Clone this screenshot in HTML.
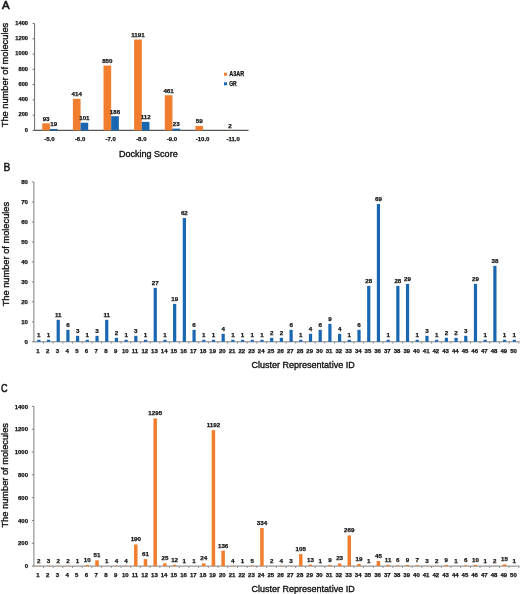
<!DOCTYPE html>
<html><head><meta charset="utf-8"><style>
html,body{margin:0;padding:0;background:#fff;}
body{width:520px;height:594px;overflow:hidden;}
svg{display:block;will-change:transform;font-family:"Liberation Sans",sans-serif;fill:#111;}
svg text{fill:#111;}
</style></head><body>
<svg width="520" height="594" viewBox="0 0 520 594">
<text x="2.10" y="8.90" font-size="11.4" text-anchor="start" font-weight="normal" stroke="#111" stroke-width="0.6">A</text>
<line x1="34.60" y1="23.60" x2="34.60" y2="130.90" stroke="#6a6a6a" stroke-width="1"/>
<line x1="34.60" y1="130.40" x2="248.50" y2="130.40" stroke="#555" stroke-width="1.1"/>
<line x1="32.60" y1="130.40" x2="34.60" y2="130.40" stroke="#6a6a6a" stroke-width="1"/>
<text x="28.00" y="131.74" font-size="5.7" text-anchor="end" font-weight="bold"  stroke="#111" stroke-width="0.25">0</text>
<line x1="32.60" y1="115.14" x2="34.60" y2="115.14" stroke="#6a6a6a" stroke-width="1"/>
<text x="28.00" y="116.48" font-size="5.7" text-anchor="end" font-weight="bold"  stroke="#111" stroke-width="0.25">200</text>
<line x1="32.60" y1="99.89" x2="34.60" y2="99.89" stroke="#6a6a6a" stroke-width="1"/>
<text x="28.00" y="101.23" font-size="5.7" text-anchor="end" font-weight="bold"  stroke="#111" stroke-width="0.25">400</text>
<line x1="32.60" y1="84.63" x2="34.60" y2="84.63" stroke="#6a6a6a" stroke-width="1"/>
<text x="28.00" y="85.97" font-size="5.7" text-anchor="end" font-weight="bold"  stroke="#111" stroke-width="0.25">600</text>
<line x1="32.60" y1="69.37" x2="34.60" y2="69.37" stroke="#6a6a6a" stroke-width="1"/>
<text x="28.00" y="70.71" font-size="5.7" text-anchor="end" font-weight="bold"  stroke="#111" stroke-width="0.25">800</text>
<line x1="32.60" y1="54.11" x2="34.60" y2="54.11" stroke="#6a6a6a" stroke-width="1"/>
<text x="28.00" y="55.45" font-size="5.7" text-anchor="end" font-weight="bold"  stroke="#111" stroke-width="0.25">1000</text>
<line x1="32.60" y1="38.86" x2="34.60" y2="38.86" stroke="#6a6a6a" stroke-width="1"/>
<text x="28.00" y="40.20" font-size="5.7" text-anchor="end" font-weight="bold"  stroke="#111" stroke-width="0.25">1200</text>
<line x1="32.60" y1="23.60" x2="34.60" y2="23.60" stroke="#6a6a6a" stroke-width="1"/>
<text x="28.00" y="24.94" font-size="5.7" text-anchor="end" font-weight="bold"  stroke="#111" stroke-width="0.25">1400</text>
<rect x="42.25" y="123.31" width="7.66" height="7.09" fill="#F07E2E"/>
<text x="46.09" y="120.61" font-size="6.2" text-anchor="middle" font-weight="bold"  stroke="#111" stroke-width="0.25">93</text>
<rect x="49.91" y="128.95" width="7.66" height="1.45" fill="#1867B0"/>
<text x="53.74" y="126.25" font-size="6.2" text-anchor="middle" font-weight="bold"  stroke="#111" stroke-width="0.25">19</text>
<text x="49.41" y="141.15" font-size="6.0" text-anchor="middle" font-weight="bold"  stroke="#111" stroke-width="0.25">-5.0</text>
<rect x="72.89" y="98.82" width="7.66" height="31.58" fill="#F07E2E"/>
<text x="76.72" y="96.12" font-size="6.2" text-anchor="middle" font-weight="bold"  stroke="#111" stroke-width="0.25">414</text>
<rect x="80.55" y="122.70" width="7.66" height="7.70" fill="#1867B0"/>
<text x="84.38" y="120.00" font-size="6.2" text-anchor="middle" font-weight="bold"  stroke="#111" stroke-width="0.25">101</text>
<text x="80.05" y="141.15" font-size="6.0" text-anchor="middle" font-weight="bold"  stroke="#111" stroke-width="0.25">-6.0</text>
<rect x="103.52" y="65.56" width="7.66" height="64.84" fill="#F07E2E"/>
<text x="107.35" y="62.86" font-size="6.2" text-anchor="middle" font-weight="bold"  stroke="#111" stroke-width="0.25">850</text>
<rect x="111.18" y="116.21" width="7.66" height="14.19" fill="#1867B0"/>
<text x="115.01" y="113.51" font-size="6.2" text-anchor="middle" font-weight="bold"  stroke="#111" stroke-width="0.25">186</text>
<text x="110.68" y="141.15" font-size="6.0" text-anchor="middle" font-weight="bold"  stroke="#111" stroke-width="0.25">-7.0</text>
<rect x="134.15" y="39.54" width="7.66" height="90.86" fill="#F07E2E"/>
<text x="137.97" y="36.84" font-size="6.2" text-anchor="middle" font-weight="bold"  stroke="#111" stroke-width="0.25">1191</text>
<rect x="141.81" y="121.86" width="7.66" height="8.54" fill="#1867B0"/>
<text x="145.64" y="119.16" font-size="6.2" text-anchor="middle" font-weight="bold"  stroke="#111" stroke-width="0.25">112</text>
<text x="141.31" y="141.15" font-size="6.0" text-anchor="middle" font-weight="bold"  stroke="#111" stroke-width="0.25">-8.0</text>
<rect x="164.78" y="95.23" width="7.66" height="35.17" fill="#F07E2E"/>
<text x="168.60" y="92.53" font-size="6.2" text-anchor="middle" font-weight="bold"  stroke="#111" stroke-width="0.25">461</text>
<rect x="172.44" y="128.65" width="7.66" height="1.75" fill="#1867B0"/>
<text x="176.27" y="125.95" font-size="6.2" text-anchor="middle" font-weight="bold"  stroke="#111" stroke-width="0.25">23</text>
<text x="171.94" y="141.15" font-size="6.0" text-anchor="middle" font-weight="bold"  stroke="#111" stroke-width="0.25">-9.0</text>
<rect x="195.41" y="125.90" width="7.66" height="4.50" fill="#F07E2E"/>
<text x="199.23" y="123.20" font-size="6.2" text-anchor="middle" font-weight="bold"  stroke="#111" stroke-width="0.25">59</text>
<text x="202.56" y="141.15" font-size="6.0" text-anchor="middle" font-weight="bold"  stroke="#111" stroke-width="0.25">-10.0</text>
<rect x="226.03" y="130.25" width="7.66" height="0.15" fill="#F07E2E"/>
<text x="229.86" y="127.55" font-size="6.2" text-anchor="middle" font-weight="bold"  stroke="#111" stroke-width="0.25">2</text>
<text x="233.19" y="141.15" font-size="6.0" text-anchor="middle" font-weight="bold"  stroke="#111" stroke-width="0.25">-11.0</text>
<text x="148.30" y="156.70" font-size="8.8" text-anchor="middle" font-weight="normal" textLength="58.8" lengthAdjust="spacingAndGlyphs" stroke="#111" stroke-width="0.35">Docking Score</text>
<text transform="translate(7.6,75.0) rotate(-90)" x="0" y="0" font-size="8.7" text-anchor="middle" textLength="104.5" lengthAdjust="spacingAndGlyphs" stroke="#111" stroke-width="0.35">The number of molecules</text>
<rect x="224.00" y="72.70" width="3.00" height="3.00" fill="#F07E2E"/>
<text x="229.20" y="76.30" font-size="6.6" text-anchor="start" font-weight="bold" textLength="15" lengthAdjust="spacingAndGlyphs" stroke="#111" stroke-width="0.25">A3AR</text>
<rect x="224.00" y="82.30" width="3.00" height="3.00" fill="#1867B0"/>
<text x="229.20" y="85.90" font-size="6.6" text-anchor="start" font-weight="bold" textLength="7.5" lengthAdjust="spacingAndGlyphs" stroke="#111" stroke-width="0.25">GR</text>
<text x="3.60" y="170.70" font-size="11.2" text-anchor="start" font-weight="normal" stroke="#111" stroke-width="0.45" textLength="6.9" lengthAdjust="spacingAndGlyphs">B</text>
<line x1="33.90" y1="182.00" x2="33.90" y2="342.30" stroke="#7f7f7f" stroke-width="1"/>
<line x1="33.90" y1="341.80" x2="519.50" y2="341.80" stroke="#7f7f7f" stroke-width="1"/>
<line x1="31.90" y1="341.80" x2="33.90" y2="341.80" stroke="#7f7f7f" stroke-width="1"/>
<text x="28.00" y="343.98" font-size="6.1" text-anchor="end" font-weight="bold"  stroke="#111" stroke-width="0.25">0</text>
<line x1="31.90" y1="321.82" x2="33.90" y2="321.82" stroke="#7f7f7f" stroke-width="1"/>
<text x="28.00" y="324.01" font-size="6.1" text-anchor="end" font-weight="bold"  stroke="#111" stroke-width="0.25">10</text>
<line x1="31.90" y1="301.85" x2="33.90" y2="301.85" stroke="#7f7f7f" stroke-width="1"/>
<text x="28.00" y="304.03" font-size="6.1" text-anchor="end" font-weight="bold"  stroke="#111" stroke-width="0.25">20</text>
<line x1="31.90" y1="281.88" x2="33.90" y2="281.88" stroke="#7f7f7f" stroke-width="1"/>
<text x="28.00" y="284.06" font-size="6.1" text-anchor="end" font-weight="bold"  stroke="#111" stroke-width="0.25">30</text>
<line x1="31.90" y1="261.90" x2="33.90" y2="261.90" stroke="#7f7f7f" stroke-width="1"/>
<text x="28.00" y="264.08" font-size="6.1" text-anchor="end" font-weight="bold"  stroke="#111" stroke-width="0.25">40</text>
<line x1="31.90" y1="241.93" x2="33.90" y2="241.93" stroke="#7f7f7f" stroke-width="1"/>
<text x="28.00" y="244.11" font-size="6.1" text-anchor="end" font-weight="bold"  stroke="#111" stroke-width="0.25">50</text>
<line x1="31.90" y1="221.95" x2="33.90" y2="221.95" stroke="#7f7f7f" stroke-width="1"/>
<text x="28.00" y="224.13" font-size="6.1" text-anchor="end" font-weight="bold"  stroke="#111" stroke-width="0.25">60</text>
<line x1="31.90" y1="201.97" x2="33.90" y2="201.97" stroke="#7f7f7f" stroke-width="1"/>
<text x="28.00" y="204.16" font-size="6.1" text-anchor="end" font-weight="bold"  stroke="#111" stroke-width="0.25">70</text>
<line x1="31.90" y1="182.00" x2="33.90" y2="182.00" stroke="#7f7f7f" stroke-width="1"/>
<text x="28.00" y="184.18" font-size="6.1" text-anchor="end" font-weight="bold"  stroke="#111" stroke-width="0.25">80</text>
<line x1="43.40" y1="341.80" x2="43.40" y2="343.60" stroke="#8c8c8c" stroke-width="1"/>
<line x1="53.11" y1="341.80" x2="53.11" y2="343.60" stroke="#8c8c8c" stroke-width="1"/>
<line x1="62.81" y1="341.80" x2="62.81" y2="343.60" stroke="#8c8c8c" stroke-width="1"/>
<line x1="72.52" y1="341.80" x2="72.52" y2="343.60" stroke="#8c8c8c" stroke-width="1"/>
<line x1="82.22" y1="341.80" x2="82.22" y2="343.60" stroke="#8c8c8c" stroke-width="1"/>
<line x1="91.92" y1="341.80" x2="91.92" y2="343.60" stroke="#8c8c8c" stroke-width="1"/>
<line x1="101.63" y1="341.80" x2="101.63" y2="343.60" stroke="#8c8c8c" stroke-width="1"/>
<line x1="111.33" y1="341.80" x2="111.33" y2="343.60" stroke="#8c8c8c" stroke-width="1"/>
<line x1="121.04" y1="341.80" x2="121.04" y2="343.60" stroke="#8c8c8c" stroke-width="1"/>
<line x1="130.74" y1="341.80" x2="130.74" y2="343.60" stroke="#8c8c8c" stroke-width="1"/>
<line x1="140.44" y1="341.80" x2="140.44" y2="343.60" stroke="#8c8c8c" stroke-width="1"/>
<line x1="150.15" y1="341.80" x2="150.15" y2="343.60" stroke="#8c8c8c" stroke-width="1"/>
<line x1="159.85" y1="341.80" x2="159.85" y2="343.60" stroke="#8c8c8c" stroke-width="1"/>
<line x1="169.56" y1="341.80" x2="169.56" y2="343.60" stroke="#8c8c8c" stroke-width="1"/>
<line x1="179.26" y1="341.80" x2="179.26" y2="343.60" stroke="#8c8c8c" stroke-width="1"/>
<line x1="188.96" y1="341.80" x2="188.96" y2="343.60" stroke="#8c8c8c" stroke-width="1"/>
<line x1="198.67" y1="341.80" x2="198.67" y2="343.60" stroke="#8c8c8c" stroke-width="1"/>
<line x1="208.37" y1="341.80" x2="208.37" y2="343.60" stroke="#8c8c8c" stroke-width="1"/>
<line x1="218.08" y1="341.80" x2="218.08" y2="343.60" stroke="#8c8c8c" stroke-width="1"/>
<line x1="227.78" y1="341.80" x2="227.78" y2="343.60" stroke="#8c8c8c" stroke-width="1"/>
<line x1="237.48" y1="341.80" x2="237.48" y2="343.60" stroke="#8c8c8c" stroke-width="1"/>
<line x1="247.19" y1="341.80" x2="247.19" y2="343.60" stroke="#8c8c8c" stroke-width="1"/>
<line x1="256.89" y1="341.80" x2="256.89" y2="343.60" stroke="#8c8c8c" stroke-width="1"/>
<line x1="266.60" y1="341.80" x2="266.60" y2="343.60" stroke="#8c8c8c" stroke-width="1"/>
<line x1="276.30" y1="341.80" x2="276.30" y2="343.60" stroke="#8c8c8c" stroke-width="1"/>
<line x1="286.00" y1="341.80" x2="286.00" y2="343.60" stroke="#8c8c8c" stroke-width="1"/>
<line x1="295.71" y1="341.80" x2="295.71" y2="343.60" stroke="#8c8c8c" stroke-width="1"/>
<line x1="305.41" y1="341.80" x2="305.41" y2="343.60" stroke="#8c8c8c" stroke-width="1"/>
<line x1="315.12" y1="341.80" x2="315.12" y2="343.60" stroke="#8c8c8c" stroke-width="1"/>
<line x1="324.82" y1="341.80" x2="324.82" y2="343.60" stroke="#8c8c8c" stroke-width="1"/>
<line x1="334.52" y1="341.80" x2="334.52" y2="343.60" stroke="#8c8c8c" stroke-width="1"/>
<line x1="344.23" y1="341.80" x2="344.23" y2="343.60" stroke="#8c8c8c" stroke-width="1"/>
<line x1="353.93" y1="341.80" x2="353.93" y2="343.60" stroke="#8c8c8c" stroke-width="1"/>
<line x1="363.64" y1="341.80" x2="363.64" y2="343.60" stroke="#8c8c8c" stroke-width="1"/>
<line x1="373.34" y1="341.80" x2="373.34" y2="343.60" stroke="#8c8c8c" stroke-width="1"/>
<line x1="383.04" y1="341.80" x2="383.04" y2="343.60" stroke="#8c8c8c" stroke-width="1"/>
<line x1="392.75" y1="341.80" x2="392.75" y2="343.60" stroke="#8c8c8c" stroke-width="1"/>
<line x1="402.45" y1="341.80" x2="402.45" y2="343.60" stroke="#8c8c8c" stroke-width="1"/>
<line x1="412.16" y1="341.80" x2="412.16" y2="343.60" stroke="#8c8c8c" stroke-width="1"/>
<line x1="421.86" y1="341.80" x2="421.86" y2="343.60" stroke="#8c8c8c" stroke-width="1"/>
<line x1="431.56" y1="341.80" x2="431.56" y2="343.60" stroke="#8c8c8c" stroke-width="1"/>
<line x1="441.27" y1="341.80" x2="441.27" y2="343.60" stroke="#8c8c8c" stroke-width="1"/>
<line x1="450.97" y1="341.80" x2="450.97" y2="343.60" stroke="#8c8c8c" stroke-width="1"/>
<line x1="460.68" y1="341.80" x2="460.68" y2="343.60" stroke="#8c8c8c" stroke-width="1"/>
<line x1="470.38" y1="341.80" x2="470.38" y2="343.60" stroke="#8c8c8c" stroke-width="1"/>
<line x1="480.08" y1="341.80" x2="480.08" y2="343.60" stroke="#8c8c8c" stroke-width="1"/>
<line x1="489.79" y1="341.80" x2="489.79" y2="343.60" stroke="#8c8c8c" stroke-width="1"/>
<line x1="499.49" y1="341.80" x2="499.49" y2="343.60" stroke="#8c8c8c" stroke-width="1"/>
<line x1="509.20" y1="341.80" x2="509.20" y2="343.60" stroke="#8c8c8c" stroke-width="1"/>
<line x1="518.90" y1="341.80" x2="518.90" y2="343.60" stroke="#8c8c8c" stroke-width="1"/>
<rect x="37.20" y="339.80" width="3.20" height="2.00" fill="#1867B0"/>
<text x="38.80" y="336.80" font-size="6.2" text-anchor="middle" font-weight="bold"  stroke="#111" stroke-width="0.25">1</text>
<text x="38.00" y="352.95" font-size="6.0" text-anchor="middle" font-weight="bold"  stroke="#111" stroke-width="0.25">1</text>
<rect x="46.91" y="339.80" width="3.20" height="2.00" fill="#1867B0"/>
<text x="48.51" y="336.80" font-size="6.2" text-anchor="middle" font-weight="bold"  stroke="#111" stroke-width="0.25">1</text>
<text x="47.71" y="352.95" font-size="6.0" text-anchor="middle" font-weight="bold"  stroke="#111" stroke-width="0.25">2</text>
<rect x="56.61" y="319.83" width="3.20" height="21.97" fill="#1867B0"/>
<text x="58.21" y="316.83" font-size="6.2" text-anchor="middle" font-weight="bold"  stroke="#111" stroke-width="0.25">11</text>
<text x="57.41" y="352.95" font-size="6.0" text-anchor="middle" font-weight="bold"  stroke="#111" stroke-width="0.25">3</text>
<rect x="66.31" y="329.81" width="3.20" height="11.98" fill="#1867B0"/>
<text x="67.91" y="326.81" font-size="6.2" text-anchor="middle" font-weight="bold"  stroke="#111" stroke-width="0.25">6</text>
<text x="67.11" y="352.95" font-size="6.0" text-anchor="middle" font-weight="bold"  stroke="#111" stroke-width="0.25">4</text>
<rect x="76.02" y="335.81" width="3.20" height="5.99" fill="#1867B0"/>
<text x="77.62" y="332.81" font-size="6.2" text-anchor="middle" font-weight="bold"  stroke="#111" stroke-width="0.25">3</text>
<text x="76.82" y="352.95" font-size="6.0" text-anchor="middle" font-weight="bold"  stroke="#111" stroke-width="0.25">5</text>
<rect x="85.72" y="339.80" width="3.20" height="2.00" fill="#1867B0"/>
<text x="87.32" y="336.80" font-size="6.2" text-anchor="middle" font-weight="bold"  stroke="#111" stroke-width="0.25">1</text>
<text x="86.52" y="352.95" font-size="6.0" text-anchor="middle" font-weight="bold"  stroke="#111" stroke-width="0.25">6</text>
<rect x="95.43" y="335.81" width="3.20" height="5.99" fill="#1867B0"/>
<text x="97.03" y="332.81" font-size="6.2" text-anchor="middle" font-weight="bold"  stroke="#111" stroke-width="0.25">3</text>
<text x="96.23" y="352.95" font-size="6.0" text-anchor="middle" font-weight="bold"  stroke="#111" stroke-width="0.25">7</text>
<rect x="105.13" y="319.83" width="3.20" height="21.97" fill="#1867B0"/>
<text x="106.73" y="316.83" font-size="6.2" text-anchor="middle" font-weight="bold"  stroke="#111" stroke-width="0.25">11</text>
<text x="105.93" y="352.95" font-size="6.0" text-anchor="middle" font-weight="bold"  stroke="#111" stroke-width="0.25">8</text>
<rect x="114.83" y="337.81" width="3.20" height="4.00" fill="#1867B0"/>
<text x="116.43" y="334.81" font-size="6.2" text-anchor="middle" font-weight="bold"  stroke="#111" stroke-width="0.25">2</text>
<text x="115.63" y="352.95" font-size="6.0" text-anchor="middle" font-weight="bold"  stroke="#111" stroke-width="0.25">9</text>
<rect x="124.54" y="339.80" width="3.20" height="2.00" fill="#1867B0"/>
<text x="126.14" y="336.80" font-size="6.2" text-anchor="middle" font-weight="bold"  stroke="#111" stroke-width="0.25">1</text>
<text x="125.34" y="352.95" font-size="6.0" text-anchor="middle" font-weight="bold"  stroke="#111" stroke-width="0.25">10</text>
<rect x="134.24" y="335.81" width="3.20" height="5.99" fill="#1867B0"/>
<text x="135.84" y="332.81" font-size="6.2" text-anchor="middle" font-weight="bold"  stroke="#111" stroke-width="0.25">3</text>
<text x="135.04" y="352.95" font-size="6.0" text-anchor="middle" font-weight="bold"  stroke="#111" stroke-width="0.25">11</text>
<rect x="143.95" y="339.80" width="3.20" height="2.00" fill="#1867B0"/>
<text x="145.55" y="336.80" font-size="6.2" text-anchor="middle" font-weight="bold"  stroke="#111" stroke-width="0.25">1</text>
<text x="144.75" y="352.95" font-size="6.0" text-anchor="middle" font-weight="bold"  stroke="#111" stroke-width="0.25">12</text>
<rect x="153.65" y="287.87" width="3.20" height="53.93" fill="#1867B0"/>
<text x="155.25" y="284.87" font-size="6.2" text-anchor="middle" font-weight="bold"  stroke="#111" stroke-width="0.25">27</text>
<text x="154.45" y="352.95" font-size="6.0" text-anchor="middle" font-weight="bold"  stroke="#111" stroke-width="0.25">13</text>
<rect x="163.35" y="339.80" width="3.20" height="2.00" fill="#1867B0"/>
<text x="164.95" y="336.80" font-size="6.2" text-anchor="middle" font-weight="bold"  stroke="#111" stroke-width="0.25">1</text>
<text x="164.15" y="352.95" font-size="6.0" text-anchor="middle" font-weight="bold"  stroke="#111" stroke-width="0.25">14</text>
<rect x="173.06" y="303.85" width="3.20" height="37.95" fill="#1867B0"/>
<text x="174.66" y="300.85" font-size="6.2" text-anchor="middle" font-weight="bold"  stroke="#111" stroke-width="0.25">19</text>
<text x="173.86" y="352.95" font-size="6.0" text-anchor="middle" font-weight="bold"  stroke="#111" stroke-width="0.25">15</text>
<rect x="182.76" y="217.96" width="3.20" height="123.84" fill="#1867B0"/>
<text x="184.36" y="214.96" font-size="6.2" text-anchor="middle" font-weight="bold"  stroke="#111" stroke-width="0.25">62</text>
<text x="183.56" y="352.95" font-size="6.0" text-anchor="middle" font-weight="bold"  stroke="#111" stroke-width="0.25">16</text>
<rect x="192.47" y="329.81" width="3.20" height="11.98" fill="#1867B0"/>
<text x="194.07" y="326.81" font-size="6.2" text-anchor="middle" font-weight="bold"  stroke="#111" stroke-width="0.25">6</text>
<text x="193.27" y="352.95" font-size="6.0" text-anchor="middle" font-weight="bold"  stroke="#111" stroke-width="0.25">17</text>
<rect x="202.17" y="339.80" width="3.20" height="2.00" fill="#1867B0"/>
<text x="203.77" y="336.80" font-size="6.2" text-anchor="middle" font-weight="bold"  stroke="#111" stroke-width="0.25">1</text>
<text x="202.97" y="352.95" font-size="6.0" text-anchor="middle" font-weight="bold"  stroke="#111" stroke-width="0.25">18</text>
<rect x="211.87" y="339.80" width="3.20" height="2.00" fill="#1867B0"/>
<text x="213.47" y="336.80" font-size="6.2" text-anchor="middle" font-weight="bold"  stroke="#111" stroke-width="0.25">1</text>
<text x="212.67" y="352.95" font-size="6.0" text-anchor="middle" font-weight="bold"  stroke="#111" stroke-width="0.25">19</text>
<rect x="221.58" y="333.81" width="3.20" height="7.99" fill="#1867B0"/>
<text x="223.18" y="330.81" font-size="6.2" text-anchor="middle" font-weight="bold"  stroke="#111" stroke-width="0.25">4</text>
<text x="222.38" y="352.95" font-size="6.0" text-anchor="middle" font-weight="bold"  stroke="#111" stroke-width="0.25">20</text>
<rect x="231.28" y="339.80" width="3.20" height="2.00" fill="#1867B0"/>
<text x="232.88" y="336.80" font-size="6.2" text-anchor="middle" font-weight="bold"  stroke="#111" stroke-width="0.25">1</text>
<text x="232.08" y="352.95" font-size="6.0" text-anchor="middle" font-weight="bold"  stroke="#111" stroke-width="0.25">21</text>
<rect x="240.99" y="339.80" width="3.20" height="2.00" fill="#1867B0"/>
<text x="242.59" y="336.80" font-size="6.2" text-anchor="middle" font-weight="bold"  stroke="#111" stroke-width="0.25">1</text>
<text x="241.79" y="352.95" font-size="6.0" text-anchor="middle" font-weight="bold"  stroke="#111" stroke-width="0.25">22</text>
<rect x="250.69" y="339.80" width="3.20" height="2.00" fill="#1867B0"/>
<text x="252.29" y="336.80" font-size="6.2" text-anchor="middle" font-weight="bold"  stroke="#111" stroke-width="0.25">1</text>
<text x="251.49" y="352.95" font-size="6.0" text-anchor="middle" font-weight="bold"  stroke="#111" stroke-width="0.25">23</text>
<rect x="260.39" y="339.80" width="3.20" height="2.00" fill="#1867B0"/>
<text x="261.99" y="336.80" font-size="6.2" text-anchor="middle" font-weight="bold"  stroke="#111" stroke-width="0.25">1</text>
<text x="261.19" y="352.95" font-size="6.0" text-anchor="middle" font-weight="bold"  stroke="#111" stroke-width="0.25">24</text>
<rect x="270.10" y="337.81" width="3.20" height="4.00" fill="#1867B0"/>
<text x="271.70" y="334.81" font-size="6.2" text-anchor="middle" font-weight="bold"  stroke="#111" stroke-width="0.25">2</text>
<text x="270.90" y="352.95" font-size="6.0" text-anchor="middle" font-weight="bold"  stroke="#111" stroke-width="0.25">25</text>
<rect x="279.80" y="337.81" width="3.20" height="4.00" fill="#1867B0"/>
<text x="281.40" y="334.81" font-size="6.2" text-anchor="middle" font-weight="bold"  stroke="#111" stroke-width="0.25">2</text>
<text x="280.60" y="352.95" font-size="6.0" text-anchor="middle" font-weight="bold"  stroke="#111" stroke-width="0.25">26</text>
<rect x="289.51" y="329.81" width="3.20" height="11.98" fill="#1867B0"/>
<text x="291.11" y="326.81" font-size="6.2" text-anchor="middle" font-weight="bold"  stroke="#111" stroke-width="0.25">6</text>
<text x="290.31" y="352.95" font-size="6.0" text-anchor="middle" font-weight="bold"  stroke="#111" stroke-width="0.25">27</text>
<rect x="299.21" y="339.80" width="3.20" height="2.00" fill="#1867B0"/>
<text x="300.81" y="336.80" font-size="6.2" text-anchor="middle" font-weight="bold"  stroke="#111" stroke-width="0.25">1</text>
<text x="300.01" y="352.95" font-size="6.0" text-anchor="middle" font-weight="bold"  stroke="#111" stroke-width="0.25">28</text>
<rect x="308.91" y="333.81" width="3.20" height="7.99" fill="#1867B0"/>
<text x="310.51" y="330.81" font-size="6.2" text-anchor="middle" font-weight="bold"  stroke="#111" stroke-width="0.25">4</text>
<text x="309.71" y="352.95" font-size="6.0" text-anchor="middle" font-weight="bold"  stroke="#111" stroke-width="0.25">29</text>
<rect x="318.62" y="329.81" width="3.20" height="11.98" fill="#1867B0"/>
<text x="320.22" y="326.81" font-size="6.2" text-anchor="middle" font-weight="bold"  stroke="#111" stroke-width="0.25">6</text>
<text x="319.42" y="352.95" font-size="6.0" text-anchor="middle" font-weight="bold"  stroke="#111" stroke-width="0.25">30</text>
<rect x="328.32" y="323.82" width="3.20" height="17.98" fill="#1867B0"/>
<text x="329.92" y="320.82" font-size="6.2" text-anchor="middle" font-weight="bold"  stroke="#111" stroke-width="0.25">9</text>
<text x="329.12" y="352.95" font-size="6.0" text-anchor="middle" font-weight="bold"  stroke="#111" stroke-width="0.25">31</text>
<rect x="338.03" y="333.81" width="3.20" height="7.99" fill="#1867B0"/>
<text x="339.63" y="330.81" font-size="6.2" text-anchor="middle" font-weight="bold"  stroke="#111" stroke-width="0.25">4</text>
<text x="338.83" y="352.95" font-size="6.0" text-anchor="middle" font-weight="bold"  stroke="#111" stroke-width="0.25">32</text>
<rect x="347.73" y="339.80" width="3.20" height="2.00" fill="#1867B0"/>
<text x="349.33" y="336.80" font-size="6.2" text-anchor="middle" font-weight="bold"  stroke="#111" stroke-width="0.25">1</text>
<text x="348.53" y="352.95" font-size="6.0" text-anchor="middle" font-weight="bold"  stroke="#111" stroke-width="0.25">33</text>
<rect x="357.43" y="329.81" width="3.20" height="11.98" fill="#1867B0"/>
<text x="359.03" y="326.81" font-size="6.2" text-anchor="middle" font-weight="bold"  stroke="#111" stroke-width="0.25">6</text>
<text x="358.23" y="352.95" font-size="6.0" text-anchor="middle" font-weight="bold"  stroke="#111" stroke-width="0.25">34</text>
<rect x="367.14" y="285.87" width="3.20" height="55.93" fill="#1867B0"/>
<text x="368.74" y="282.87" font-size="6.2" text-anchor="middle" font-weight="bold"  stroke="#111" stroke-width="0.25">28</text>
<text x="367.94" y="352.95" font-size="6.0" text-anchor="middle" font-weight="bold"  stroke="#111" stroke-width="0.25">35</text>
<rect x="376.84" y="203.97" width="3.20" height="137.83" fill="#1867B0"/>
<text x="378.44" y="200.97" font-size="6.2" text-anchor="middle" font-weight="bold"  stroke="#111" stroke-width="0.25">69</text>
<text x="377.64" y="352.95" font-size="6.0" text-anchor="middle" font-weight="bold"  stroke="#111" stroke-width="0.25">36</text>
<rect x="386.55" y="339.80" width="3.20" height="2.00" fill="#1867B0"/>
<text x="388.15" y="336.80" font-size="6.2" text-anchor="middle" font-weight="bold"  stroke="#111" stroke-width="0.25">1</text>
<text x="387.35" y="352.95" font-size="6.0" text-anchor="middle" font-weight="bold"  stroke="#111" stroke-width="0.25">37</text>
<rect x="396.25" y="285.87" width="3.20" height="55.93" fill="#1867B0"/>
<text x="397.85" y="282.87" font-size="6.2" text-anchor="middle" font-weight="bold"  stroke="#111" stroke-width="0.25">28</text>
<text x="397.05" y="352.95" font-size="6.0" text-anchor="middle" font-weight="bold"  stroke="#111" stroke-width="0.25">38</text>
<rect x="405.95" y="283.87" width="3.20" height="57.93" fill="#1867B0"/>
<text x="407.55" y="280.87" font-size="6.2" text-anchor="middle" font-weight="bold"  stroke="#111" stroke-width="0.25">29</text>
<text x="406.75" y="352.95" font-size="6.0" text-anchor="middle" font-weight="bold"  stroke="#111" stroke-width="0.25">39</text>
<rect x="415.66" y="339.80" width="3.20" height="2.00" fill="#1867B0"/>
<text x="417.26" y="336.80" font-size="6.2" text-anchor="middle" font-weight="bold"  stroke="#111" stroke-width="0.25">1</text>
<text x="416.46" y="352.95" font-size="6.0" text-anchor="middle" font-weight="bold"  stroke="#111" stroke-width="0.25">40</text>
<rect x="425.36" y="335.81" width="3.20" height="5.99" fill="#1867B0"/>
<text x="426.96" y="332.81" font-size="6.2" text-anchor="middle" font-weight="bold"  stroke="#111" stroke-width="0.25">3</text>
<text x="426.16" y="352.95" font-size="6.0" text-anchor="middle" font-weight="bold"  stroke="#111" stroke-width="0.25">41</text>
<rect x="435.07" y="339.80" width="3.20" height="2.00" fill="#1867B0"/>
<text x="436.67" y="336.80" font-size="6.2" text-anchor="middle" font-weight="bold"  stroke="#111" stroke-width="0.25">1</text>
<text x="435.87" y="352.95" font-size="6.0" text-anchor="middle" font-weight="bold"  stroke="#111" stroke-width="0.25">42</text>
<rect x="444.77" y="337.81" width="3.20" height="4.00" fill="#1867B0"/>
<text x="446.37" y="334.81" font-size="6.2" text-anchor="middle" font-weight="bold"  stroke="#111" stroke-width="0.25">2</text>
<text x="445.57" y="352.95" font-size="6.0" text-anchor="middle" font-weight="bold"  stroke="#111" stroke-width="0.25">43</text>
<rect x="454.47" y="337.81" width="3.20" height="4.00" fill="#1867B0"/>
<text x="456.07" y="334.81" font-size="6.2" text-anchor="middle" font-weight="bold"  stroke="#111" stroke-width="0.25">2</text>
<text x="455.27" y="352.95" font-size="6.0" text-anchor="middle" font-weight="bold"  stroke="#111" stroke-width="0.25">44</text>
<rect x="464.18" y="335.81" width="3.20" height="5.99" fill="#1867B0"/>
<text x="465.78" y="332.81" font-size="6.2" text-anchor="middle" font-weight="bold"  stroke="#111" stroke-width="0.25">3</text>
<text x="464.98" y="352.95" font-size="6.0" text-anchor="middle" font-weight="bold"  stroke="#111" stroke-width="0.25">45</text>
<rect x="473.88" y="283.87" width="3.20" height="57.93" fill="#1867B0"/>
<text x="475.48" y="280.87" font-size="6.2" text-anchor="middle" font-weight="bold"  stroke="#111" stroke-width="0.25">29</text>
<text x="474.68" y="352.95" font-size="6.0" text-anchor="middle" font-weight="bold"  stroke="#111" stroke-width="0.25">46</text>
<rect x="483.59" y="339.80" width="3.20" height="2.00" fill="#1867B0"/>
<text x="485.19" y="336.80" font-size="6.2" text-anchor="middle" font-weight="bold"  stroke="#111" stroke-width="0.25">1</text>
<text x="484.39" y="352.95" font-size="6.0" text-anchor="middle" font-weight="bold"  stroke="#111" stroke-width="0.25">47</text>
<rect x="493.29" y="265.89" width="3.20" height="75.91" fill="#1867B0"/>
<text x="494.89" y="262.89" font-size="6.2" text-anchor="middle" font-weight="bold"  stroke="#111" stroke-width="0.25">38</text>
<text x="494.09" y="352.95" font-size="6.0" text-anchor="middle" font-weight="bold"  stroke="#111" stroke-width="0.25">48</text>
<rect x="502.99" y="339.80" width="3.20" height="2.00" fill="#1867B0"/>
<text x="504.59" y="336.80" font-size="6.2" text-anchor="middle" font-weight="bold"  stroke="#111" stroke-width="0.25">1</text>
<text x="503.79" y="352.95" font-size="6.0" text-anchor="middle" font-weight="bold"  stroke="#111" stroke-width="0.25">49</text>
<rect x="512.70" y="339.80" width="3.20" height="2.00" fill="#1867B0"/>
<text x="514.30" y="336.80" font-size="6.2" text-anchor="middle" font-weight="bold"  stroke="#111" stroke-width="0.25">1</text>
<text x="513.50" y="352.95" font-size="6.0" text-anchor="middle" font-weight="bold"  stroke="#111" stroke-width="0.25">50</text>
<text x="303.10" y="368.20" font-size="9" text-anchor="middle" font-weight="normal" textLength="103.1" lengthAdjust="spacingAndGlyphs" stroke="#111" stroke-width="0.35">Cluster Representative ID</text>
<text transform="translate(9.4,254.1) rotate(-90)" x="0" y="0" font-size="8.7" text-anchor="middle" textLength="104.5" lengthAdjust="spacingAndGlyphs" stroke="#111" stroke-width="0.35">The number of molecules</text>
<text x="1.00" y="391.60" font-size="11.6" text-anchor="start" font-weight="normal" stroke="#111" stroke-width="0.5" textLength="6.6" lengthAdjust="spacingAndGlyphs">C</text>
<line x1="33.90" y1="406.40" x2="33.90" y2="566.60" stroke="#7f7f7f" stroke-width="1"/>
<line x1="33.90" y1="566.10" x2="519.50" y2="566.10" stroke="#7f7f7f" stroke-width="1"/>
<line x1="31.90" y1="566.10" x2="33.90" y2="566.10" stroke="#7f7f7f" stroke-width="1"/>
<text x="28.00" y="568.25" font-size="6.0" text-anchor="end" font-weight="bold"  stroke="#111" stroke-width="0.25">0</text>
<line x1="31.90" y1="543.29" x2="33.90" y2="543.29" stroke="#7f7f7f" stroke-width="1"/>
<text x="28.00" y="545.43" font-size="6.0" text-anchor="end" font-weight="bold"  stroke="#111" stroke-width="0.25">200</text>
<line x1="31.90" y1="520.47" x2="33.90" y2="520.47" stroke="#7f7f7f" stroke-width="1"/>
<text x="28.00" y="522.62" font-size="6.0" text-anchor="end" font-weight="bold"  stroke="#111" stroke-width="0.25">400</text>
<line x1="31.90" y1="497.66" x2="33.90" y2="497.66" stroke="#7f7f7f" stroke-width="1"/>
<text x="28.00" y="499.81" font-size="6.0" text-anchor="end" font-weight="bold"  stroke="#111" stroke-width="0.25">600</text>
<line x1="31.90" y1="474.84" x2="33.90" y2="474.84" stroke="#7f7f7f" stroke-width="1"/>
<text x="28.00" y="476.99" font-size="6.0" text-anchor="end" font-weight="bold"  stroke="#111" stroke-width="0.25">800</text>
<line x1="31.90" y1="452.03" x2="33.90" y2="452.03" stroke="#7f7f7f" stroke-width="1"/>
<text x="28.00" y="454.18" font-size="6.0" text-anchor="end" font-weight="bold"  stroke="#111" stroke-width="0.25">1000</text>
<line x1="31.90" y1="429.21" x2="33.90" y2="429.21" stroke="#7f7f7f" stroke-width="1"/>
<text x="28.00" y="431.36" font-size="6.0" text-anchor="end" font-weight="bold"  stroke="#111" stroke-width="0.25">1200</text>
<line x1="31.90" y1="406.40" x2="33.90" y2="406.40" stroke="#7f7f7f" stroke-width="1"/>
<text x="28.00" y="408.55" font-size="6.0" text-anchor="end" font-weight="bold"  stroke="#111" stroke-width="0.25">1400</text>
<line x1="43.40" y1="566.10" x2="43.40" y2="567.90" stroke="#8c8c8c" stroke-width="1"/>
<line x1="53.11" y1="566.10" x2="53.11" y2="567.90" stroke="#8c8c8c" stroke-width="1"/>
<line x1="62.81" y1="566.10" x2="62.81" y2="567.90" stroke="#8c8c8c" stroke-width="1"/>
<line x1="72.52" y1="566.10" x2="72.52" y2="567.90" stroke="#8c8c8c" stroke-width="1"/>
<line x1="82.22" y1="566.10" x2="82.22" y2="567.90" stroke="#8c8c8c" stroke-width="1"/>
<line x1="91.92" y1="566.10" x2="91.92" y2="567.90" stroke="#8c8c8c" stroke-width="1"/>
<line x1="101.63" y1="566.10" x2="101.63" y2="567.90" stroke="#8c8c8c" stroke-width="1"/>
<line x1="111.33" y1="566.10" x2="111.33" y2="567.90" stroke="#8c8c8c" stroke-width="1"/>
<line x1="121.04" y1="566.10" x2="121.04" y2="567.90" stroke="#8c8c8c" stroke-width="1"/>
<line x1="130.74" y1="566.10" x2="130.74" y2="567.90" stroke="#8c8c8c" stroke-width="1"/>
<line x1="140.44" y1="566.10" x2="140.44" y2="567.90" stroke="#8c8c8c" stroke-width="1"/>
<line x1="150.15" y1="566.10" x2="150.15" y2="567.90" stroke="#8c8c8c" stroke-width="1"/>
<line x1="159.85" y1="566.10" x2="159.85" y2="567.90" stroke="#8c8c8c" stroke-width="1"/>
<line x1="169.56" y1="566.10" x2="169.56" y2="567.90" stroke="#8c8c8c" stroke-width="1"/>
<line x1="179.26" y1="566.10" x2="179.26" y2="567.90" stroke="#8c8c8c" stroke-width="1"/>
<line x1="188.96" y1="566.10" x2="188.96" y2="567.90" stroke="#8c8c8c" stroke-width="1"/>
<line x1="198.67" y1="566.10" x2="198.67" y2="567.90" stroke="#8c8c8c" stroke-width="1"/>
<line x1="208.37" y1="566.10" x2="208.37" y2="567.90" stroke="#8c8c8c" stroke-width="1"/>
<line x1="218.08" y1="566.10" x2="218.08" y2="567.90" stroke="#8c8c8c" stroke-width="1"/>
<line x1="227.78" y1="566.10" x2="227.78" y2="567.90" stroke="#8c8c8c" stroke-width="1"/>
<line x1="237.48" y1="566.10" x2="237.48" y2="567.90" stroke="#8c8c8c" stroke-width="1"/>
<line x1="247.19" y1="566.10" x2="247.19" y2="567.90" stroke="#8c8c8c" stroke-width="1"/>
<line x1="256.89" y1="566.10" x2="256.89" y2="567.90" stroke="#8c8c8c" stroke-width="1"/>
<line x1="266.60" y1="566.10" x2="266.60" y2="567.90" stroke="#8c8c8c" stroke-width="1"/>
<line x1="276.30" y1="566.10" x2="276.30" y2="567.90" stroke="#8c8c8c" stroke-width="1"/>
<line x1="286.00" y1="566.10" x2="286.00" y2="567.90" stroke="#8c8c8c" stroke-width="1"/>
<line x1="295.71" y1="566.10" x2="295.71" y2="567.90" stroke="#8c8c8c" stroke-width="1"/>
<line x1="305.41" y1="566.10" x2="305.41" y2="567.90" stroke="#8c8c8c" stroke-width="1"/>
<line x1="315.12" y1="566.10" x2="315.12" y2="567.90" stroke="#8c8c8c" stroke-width="1"/>
<line x1="324.82" y1="566.10" x2="324.82" y2="567.90" stroke="#8c8c8c" stroke-width="1"/>
<line x1="334.52" y1="566.10" x2="334.52" y2="567.90" stroke="#8c8c8c" stroke-width="1"/>
<line x1="344.23" y1="566.10" x2="344.23" y2="567.90" stroke="#8c8c8c" stroke-width="1"/>
<line x1="353.93" y1="566.10" x2="353.93" y2="567.90" stroke="#8c8c8c" stroke-width="1"/>
<line x1="363.64" y1="566.10" x2="363.64" y2="567.90" stroke="#8c8c8c" stroke-width="1"/>
<line x1="373.34" y1="566.10" x2="373.34" y2="567.90" stroke="#8c8c8c" stroke-width="1"/>
<line x1="383.04" y1="566.10" x2="383.04" y2="567.90" stroke="#8c8c8c" stroke-width="1"/>
<line x1="392.75" y1="566.10" x2="392.75" y2="567.90" stroke="#8c8c8c" stroke-width="1"/>
<line x1="402.45" y1="566.10" x2="402.45" y2="567.90" stroke="#8c8c8c" stroke-width="1"/>
<line x1="412.16" y1="566.10" x2="412.16" y2="567.90" stroke="#8c8c8c" stroke-width="1"/>
<line x1="421.86" y1="566.10" x2="421.86" y2="567.90" stroke="#8c8c8c" stroke-width="1"/>
<line x1="431.56" y1="566.10" x2="431.56" y2="567.90" stroke="#8c8c8c" stroke-width="1"/>
<line x1="441.27" y1="566.10" x2="441.27" y2="567.90" stroke="#8c8c8c" stroke-width="1"/>
<line x1="450.97" y1="566.10" x2="450.97" y2="567.90" stroke="#8c8c8c" stroke-width="1"/>
<line x1="460.68" y1="566.10" x2="460.68" y2="567.90" stroke="#8c8c8c" stroke-width="1"/>
<line x1="470.38" y1="566.10" x2="470.38" y2="567.90" stroke="#8c8c8c" stroke-width="1"/>
<line x1="480.08" y1="566.10" x2="480.08" y2="567.90" stroke="#8c8c8c" stroke-width="1"/>
<line x1="489.79" y1="566.10" x2="489.79" y2="567.90" stroke="#8c8c8c" stroke-width="1"/>
<line x1="499.49" y1="566.10" x2="499.49" y2="567.90" stroke="#8c8c8c" stroke-width="1"/>
<line x1="509.20" y1="566.10" x2="509.20" y2="567.90" stroke="#8c8c8c" stroke-width="1"/>
<line x1="518.90" y1="566.10" x2="518.90" y2="567.90" stroke="#8c8c8c" stroke-width="1"/>
<rect x="37.00" y="565.87" width="3.50" height="0.23" fill="#F07E2E"/>
<text x="38.75" y="562.87" font-size="6.2" text-anchor="middle" font-weight="bold"  stroke="#111" stroke-width="0.25">2</text>
<text x="37.95" y="576.65" font-size="6.0" text-anchor="middle" font-weight="bold"  stroke="#111" stroke-width="0.25">1</text>
<rect x="46.71" y="565.76" width="3.50" height="0.34" fill="#F07E2E"/>
<text x="48.46" y="562.76" font-size="6.2" text-anchor="middle" font-weight="bold"  stroke="#111" stroke-width="0.25">3</text>
<text x="47.66" y="576.65" font-size="6.0" text-anchor="middle" font-weight="bold"  stroke="#111" stroke-width="0.25">2</text>
<rect x="56.41" y="565.87" width="3.50" height="0.23" fill="#F07E2E"/>
<text x="58.16" y="562.87" font-size="6.2" text-anchor="middle" font-weight="bold"  stroke="#111" stroke-width="0.25">2</text>
<text x="57.36" y="576.65" font-size="6.0" text-anchor="middle" font-weight="bold"  stroke="#111" stroke-width="0.25">3</text>
<rect x="66.11" y="565.87" width="3.50" height="0.23" fill="#F07E2E"/>
<text x="67.86" y="562.87" font-size="6.2" text-anchor="middle" font-weight="bold"  stroke="#111" stroke-width="0.25">2</text>
<text x="67.06" y="576.65" font-size="6.0" text-anchor="middle" font-weight="bold"  stroke="#111" stroke-width="0.25">4</text>
<rect x="75.82" y="565.99" width="3.50" height="0.11" fill="#F07E2E"/>
<text x="77.57" y="562.99" font-size="6.2" text-anchor="middle" font-weight="bold"  stroke="#111" stroke-width="0.25">1</text>
<text x="76.77" y="576.65" font-size="6.0" text-anchor="middle" font-weight="bold"  stroke="#111" stroke-width="0.25">5</text>
<rect x="85.52" y="564.96" width="3.50" height="1.14" fill="#F07E2E"/>
<text x="87.27" y="561.96" font-size="6.2" text-anchor="middle" font-weight="bold"  stroke="#111" stroke-width="0.25">10</text>
<text x="86.47" y="576.65" font-size="6.0" text-anchor="middle" font-weight="bold"  stroke="#111" stroke-width="0.25">6</text>
<rect x="95.23" y="560.28" width="3.50" height="5.82" fill="#F07E2E"/>
<text x="96.98" y="557.28" font-size="6.2" text-anchor="middle" font-weight="bold"  stroke="#111" stroke-width="0.25">51</text>
<text x="96.18" y="576.65" font-size="6.0" text-anchor="middle" font-weight="bold"  stroke="#111" stroke-width="0.25">7</text>
<rect x="104.93" y="565.99" width="3.50" height="0.11" fill="#F07E2E"/>
<text x="106.68" y="562.99" font-size="6.2" text-anchor="middle" font-weight="bold"  stroke="#111" stroke-width="0.25">1</text>
<text x="105.88" y="576.65" font-size="6.0" text-anchor="middle" font-weight="bold"  stroke="#111" stroke-width="0.25">8</text>
<rect x="114.63" y="565.64" width="3.50" height="0.46" fill="#F07E2E"/>
<text x="116.38" y="562.64" font-size="6.2" text-anchor="middle" font-weight="bold"  stroke="#111" stroke-width="0.25">4</text>
<text x="115.58" y="576.65" font-size="6.0" text-anchor="middle" font-weight="bold"  stroke="#111" stroke-width="0.25">9</text>
<rect x="124.34" y="565.64" width="3.50" height="0.46" fill="#F07E2E"/>
<text x="126.09" y="562.64" font-size="6.2" text-anchor="middle" font-weight="bold"  stroke="#111" stroke-width="0.25">4</text>
<text x="125.29" y="576.65" font-size="6.0" text-anchor="middle" font-weight="bold"  stroke="#111" stroke-width="0.25">10</text>
<rect x="134.04" y="544.43" width="3.50" height="21.67" fill="#F07E2E"/>
<text x="135.79" y="541.43" font-size="6.2" text-anchor="middle" font-weight="bold"  stroke="#111" stroke-width="0.25">190</text>
<text x="134.99" y="576.65" font-size="6.0" text-anchor="middle" font-weight="bold"  stroke="#111" stroke-width="0.25">11</text>
<rect x="143.75" y="559.14" width="3.50" height="6.96" fill="#F07E2E"/>
<text x="145.50" y="556.14" font-size="6.2" text-anchor="middle" font-weight="bold"  stroke="#111" stroke-width="0.25">61</text>
<text x="144.70" y="576.65" font-size="6.0" text-anchor="middle" font-weight="bold"  stroke="#111" stroke-width="0.25">12</text>
<rect x="153.45" y="418.38" width="3.50" height="147.72" fill="#F07E2E"/>
<text x="155.20" y="415.38" font-size="6.2" text-anchor="middle" font-weight="bold"  stroke="#111" stroke-width="0.25">1295</text>
<text x="154.40" y="576.65" font-size="6.0" text-anchor="middle" font-weight="bold"  stroke="#111" stroke-width="0.25">13</text>
<rect x="163.15" y="563.25" width="3.50" height="2.85" fill="#F07E2E"/>
<text x="164.90" y="560.25" font-size="6.2" text-anchor="middle" font-weight="bold"  stroke="#111" stroke-width="0.25">25</text>
<text x="164.10" y="576.65" font-size="6.0" text-anchor="middle" font-weight="bold"  stroke="#111" stroke-width="0.25">14</text>
<rect x="172.86" y="564.73" width="3.50" height="1.37" fill="#F07E2E"/>
<text x="174.61" y="561.73" font-size="6.2" text-anchor="middle" font-weight="bold"  stroke="#111" stroke-width="0.25">12</text>
<text x="173.81" y="576.65" font-size="6.0" text-anchor="middle" font-weight="bold"  stroke="#111" stroke-width="0.25">15</text>
<rect x="182.56" y="565.99" width="3.50" height="0.11" fill="#F07E2E"/>
<text x="184.31" y="562.99" font-size="6.2" text-anchor="middle" font-weight="bold"  stroke="#111" stroke-width="0.25">1</text>
<text x="183.51" y="576.65" font-size="6.0" text-anchor="middle" font-weight="bold"  stroke="#111" stroke-width="0.25">16</text>
<rect x="192.27" y="565.99" width="3.50" height="0.11" fill="#F07E2E"/>
<text x="194.02" y="562.99" font-size="6.2" text-anchor="middle" font-weight="bold"  stroke="#111" stroke-width="0.25">1</text>
<text x="193.22" y="576.65" font-size="6.0" text-anchor="middle" font-weight="bold"  stroke="#111" stroke-width="0.25">17</text>
<rect x="201.97" y="563.36" width="3.50" height="2.74" fill="#F07E2E"/>
<text x="203.72" y="560.36" font-size="6.2" text-anchor="middle" font-weight="bold"  stroke="#111" stroke-width="0.25">24</text>
<text x="202.92" y="576.65" font-size="6.0" text-anchor="middle" font-weight="bold"  stroke="#111" stroke-width="0.25">18</text>
<rect x="211.67" y="430.13" width="3.50" height="135.97" fill="#F07E2E"/>
<text x="213.42" y="427.13" font-size="6.2" text-anchor="middle" font-weight="bold"  stroke="#111" stroke-width="0.25">1192</text>
<text x="212.62" y="576.65" font-size="6.0" text-anchor="middle" font-weight="bold"  stroke="#111" stroke-width="0.25">19</text>
<rect x="221.38" y="550.59" width="3.50" height="15.51" fill="#F07E2E"/>
<text x="223.13" y="547.59" font-size="6.2" text-anchor="middle" font-weight="bold"  stroke="#111" stroke-width="0.25">136</text>
<text x="222.33" y="576.65" font-size="6.0" text-anchor="middle" font-weight="bold"  stroke="#111" stroke-width="0.25">20</text>
<rect x="231.08" y="565.64" width="3.50" height="0.46" fill="#F07E2E"/>
<text x="232.83" y="562.64" font-size="6.2" text-anchor="middle" font-weight="bold"  stroke="#111" stroke-width="0.25">4</text>
<text x="232.03" y="576.65" font-size="6.0" text-anchor="middle" font-weight="bold"  stroke="#111" stroke-width="0.25">21</text>
<rect x="240.79" y="565.99" width="3.50" height="0.11" fill="#F07E2E"/>
<text x="242.54" y="562.99" font-size="6.2" text-anchor="middle" font-weight="bold"  stroke="#111" stroke-width="0.25">1</text>
<text x="241.74" y="576.65" font-size="6.0" text-anchor="middle" font-weight="bold"  stroke="#111" stroke-width="0.25">22</text>
<rect x="250.49" y="565.53" width="3.50" height="0.57" fill="#F07E2E"/>
<text x="252.24" y="562.53" font-size="6.2" text-anchor="middle" font-weight="bold"  stroke="#111" stroke-width="0.25">5</text>
<text x="251.44" y="576.65" font-size="6.0" text-anchor="middle" font-weight="bold"  stroke="#111" stroke-width="0.25">23</text>
<rect x="260.19" y="528.00" width="3.50" height="38.10" fill="#F07E2E"/>
<text x="261.94" y="525.00" font-size="6.2" text-anchor="middle" font-weight="bold"  stroke="#111" stroke-width="0.25">334</text>
<text x="261.14" y="576.65" font-size="6.0" text-anchor="middle" font-weight="bold"  stroke="#111" stroke-width="0.25">24</text>
<rect x="269.90" y="565.87" width="3.50" height="0.23" fill="#F07E2E"/>
<text x="271.65" y="562.87" font-size="6.2" text-anchor="middle" font-weight="bold"  stroke="#111" stroke-width="0.25">2</text>
<text x="270.85" y="576.65" font-size="6.0" text-anchor="middle" font-weight="bold"  stroke="#111" stroke-width="0.25">25</text>
<rect x="279.60" y="565.64" width="3.50" height="0.46" fill="#F07E2E"/>
<text x="281.35" y="562.64" font-size="6.2" text-anchor="middle" font-weight="bold"  stroke="#111" stroke-width="0.25">4</text>
<text x="280.55" y="576.65" font-size="6.0" text-anchor="middle" font-weight="bold"  stroke="#111" stroke-width="0.25">26</text>
<rect x="289.31" y="565.76" width="3.50" height="0.34" fill="#F07E2E"/>
<text x="291.06" y="562.76" font-size="6.2" text-anchor="middle" font-weight="bold"  stroke="#111" stroke-width="0.25">3</text>
<text x="290.26" y="576.65" font-size="6.0" text-anchor="middle" font-weight="bold"  stroke="#111" stroke-width="0.25">27</text>
<rect x="299.01" y="554.12" width="3.50" height="11.98" fill="#F07E2E"/>
<text x="300.76" y="551.12" font-size="6.2" text-anchor="middle" font-weight="bold"  stroke="#111" stroke-width="0.25">105</text>
<text x="299.96" y="576.65" font-size="6.0" text-anchor="middle" font-weight="bold"  stroke="#111" stroke-width="0.25">28</text>
<rect x="308.71" y="564.62" width="3.50" height="1.48" fill="#F07E2E"/>
<text x="310.46" y="561.62" font-size="6.2" text-anchor="middle" font-weight="bold"  stroke="#111" stroke-width="0.25">13</text>
<text x="309.66" y="576.65" font-size="6.0" text-anchor="middle" font-weight="bold"  stroke="#111" stroke-width="0.25">29</text>
<rect x="318.42" y="565.99" width="3.50" height="0.11" fill="#F07E2E"/>
<text x="320.17" y="562.99" font-size="6.2" text-anchor="middle" font-weight="bold"  stroke="#111" stroke-width="0.25">1</text>
<text x="319.37" y="576.65" font-size="6.0" text-anchor="middle" font-weight="bold"  stroke="#111" stroke-width="0.25">30</text>
<rect x="328.12" y="565.07" width="3.50" height="1.03" fill="#F07E2E"/>
<text x="329.87" y="562.07" font-size="6.2" text-anchor="middle" font-weight="bold"  stroke="#111" stroke-width="0.25">9</text>
<text x="329.07" y="576.65" font-size="6.0" text-anchor="middle" font-weight="bold"  stroke="#111" stroke-width="0.25">31</text>
<rect x="337.83" y="563.48" width="3.50" height="2.62" fill="#F07E2E"/>
<text x="339.58" y="560.48" font-size="6.2" text-anchor="middle" font-weight="bold"  stroke="#111" stroke-width="0.25">23</text>
<text x="338.78" y="576.65" font-size="6.0" text-anchor="middle" font-weight="bold"  stroke="#111" stroke-width="0.25">32</text>
<rect x="347.53" y="535.41" width="3.50" height="30.69" fill="#F07E2E"/>
<text x="349.28" y="532.41" font-size="6.2" text-anchor="middle" font-weight="bold"  stroke="#111" stroke-width="0.25">269</text>
<text x="348.48" y="576.65" font-size="6.0" text-anchor="middle" font-weight="bold"  stroke="#111" stroke-width="0.25">33</text>
<rect x="357.23" y="563.93" width="3.50" height="2.17" fill="#F07E2E"/>
<text x="358.98" y="560.93" font-size="6.2" text-anchor="middle" font-weight="bold"  stroke="#111" stroke-width="0.25">19</text>
<text x="358.18" y="576.65" font-size="6.0" text-anchor="middle" font-weight="bold"  stroke="#111" stroke-width="0.25">34</text>
<rect x="366.94" y="565.99" width="3.50" height="0.11" fill="#F07E2E"/>
<text x="368.69" y="562.99" font-size="6.2" text-anchor="middle" font-weight="bold"  stroke="#111" stroke-width="0.25">1</text>
<text x="367.89" y="576.65" font-size="6.0" text-anchor="middle" font-weight="bold"  stroke="#111" stroke-width="0.25">35</text>
<rect x="376.64" y="560.97" width="3.50" height="5.13" fill="#F07E2E"/>
<text x="378.39" y="557.97" font-size="6.2" text-anchor="middle" font-weight="bold"  stroke="#111" stroke-width="0.25">45</text>
<text x="377.59" y="576.65" font-size="6.0" text-anchor="middle" font-weight="bold"  stroke="#111" stroke-width="0.25">36</text>
<rect x="386.35" y="564.85" width="3.50" height="1.25" fill="#F07E2E"/>
<text x="388.10" y="561.85" font-size="6.2" text-anchor="middle" font-weight="bold"  stroke="#111" stroke-width="0.25">11</text>
<text x="387.30" y="576.65" font-size="6.0" text-anchor="middle" font-weight="bold"  stroke="#111" stroke-width="0.25">37</text>
<rect x="396.05" y="565.42" width="3.50" height="0.68" fill="#F07E2E"/>
<text x="397.80" y="562.42" font-size="6.2" text-anchor="middle" font-weight="bold"  stroke="#111" stroke-width="0.25">6</text>
<text x="397.00" y="576.65" font-size="6.0" text-anchor="middle" font-weight="bold"  stroke="#111" stroke-width="0.25">38</text>
<rect x="405.75" y="565.07" width="3.50" height="1.03" fill="#F07E2E"/>
<text x="407.50" y="562.07" font-size="6.2" text-anchor="middle" font-weight="bold"  stroke="#111" stroke-width="0.25">9</text>
<text x="406.70" y="576.65" font-size="6.0" text-anchor="middle" font-weight="bold"  stroke="#111" stroke-width="0.25">39</text>
<rect x="415.46" y="565.30" width="3.50" height="0.80" fill="#F07E2E"/>
<text x="417.21" y="562.30" font-size="6.2" text-anchor="middle" font-weight="bold"  stroke="#111" stroke-width="0.25">7</text>
<text x="416.41" y="576.65" font-size="6.0" text-anchor="middle" font-weight="bold"  stroke="#111" stroke-width="0.25">40</text>
<rect x="425.16" y="565.76" width="3.50" height="0.34" fill="#F07E2E"/>
<text x="426.91" y="562.76" font-size="6.2" text-anchor="middle" font-weight="bold"  stroke="#111" stroke-width="0.25">3</text>
<text x="426.11" y="576.65" font-size="6.0" text-anchor="middle" font-weight="bold"  stroke="#111" stroke-width="0.25">41</text>
<rect x="434.87" y="565.87" width="3.50" height="0.23" fill="#F07E2E"/>
<text x="436.62" y="562.87" font-size="6.2" text-anchor="middle" font-weight="bold"  stroke="#111" stroke-width="0.25">2</text>
<text x="435.82" y="576.65" font-size="6.0" text-anchor="middle" font-weight="bold"  stroke="#111" stroke-width="0.25">42</text>
<rect x="444.57" y="565.07" width="3.50" height="1.03" fill="#F07E2E"/>
<text x="446.32" y="562.07" font-size="6.2" text-anchor="middle" font-weight="bold"  stroke="#111" stroke-width="0.25">9</text>
<text x="445.52" y="576.65" font-size="6.0" text-anchor="middle" font-weight="bold"  stroke="#111" stroke-width="0.25">43</text>
<rect x="454.27" y="565.99" width="3.50" height="0.11" fill="#F07E2E"/>
<text x="456.02" y="562.99" font-size="6.2" text-anchor="middle" font-weight="bold"  stroke="#111" stroke-width="0.25">1</text>
<text x="455.22" y="576.65" font-size="6.0" text-anchor="middle" font-weight="bold"  stroke="#111" stroke-width="0.25">44</text>
<rect x="463.98" y="565.42" width="3.50" height="0.68" fill="#F07E2E"/>
<text x="465.73" y="562.42" font-size="6.2" text-anchor="middle" font-weight="bold"  stroke="#111" stroke-width="0.25">6</text>
<text x="464.93" y="576.65" font-size="6.0" text-anchor="middle" font-weight="bold"  stroke="#111" stroke-width="0.25">45</text>
<rect x="473.68" y="564.96" width="3.50" height="1.14" fill="#F07E2E"/>
<text x="475.43" y="561.96" font-size="6.2" text-anchor="middle" font-weight="bold"  stroke="#111" stroke-width="0.25">10</text>
<text x="474.63" y="576.65" font-size="6.0" text-anchor="middle" font-weight="bold"  stroke="#111" stroke-width="0.25">46</text>
<rect x="483.39" y="565.99" width="3.50" height="0.11" fill="#F07E2E"/>
<text x="485.14" y="562.99" font-size="6.2" text-anchor="middle" font-weight="bold"  stroke="#111" stroke-width="0.25">1</text>
<text x="484.34" y="576.65" font-size="6.0" text-anchor="middle" font-weight="bold"  stroke="#111" stroke-width="0.25">47</text>
<rect x="493.09" y="565.87" width="3.50" height="0.23" fill="#F07E2E"/>
<text x="494.84" y="562.87" font-size="6.2" text-anchor="middle" font-weight="bold"  stroke="#111" stroke-width="0.25">2</text>
<text x="494.04" y="576.65" font-size="6.0" text-anchor="middle" font-weight="bold"  stroke="#111" stroke-width="0.25">48</text>
<rect x="502.79" y="564.39" width="3.50" height="1.71" fill="#F07E2E"/>
<text x="504.54" y="561.39" font-size="6.2" text-anchor="middle" font-weight="bold"  stroke="#111" stroke-width="0.25">15</text>
<text x="503.74" y="576.65" font-size="6.0" text-anchor="middle" font-weight="bold"  stroke="#111" stroke-width="0.25">49</text>
<rect x="512.50" y="565.99" width="3.50" height="0.11" fill="#F07E2E"/>
<text x="514.25" y="562.99" font-size="6.2" text-anchor="middle" font-weight="bold"  stroke="#111" stroke-width="0.25">1</text>
<text x="513.45" y="576.65" font-size="6.0" text-anchor="middle" font-weight="bold"  stroke="#111" stroke-width="0.25">50</text>
<text x="303.10" y="591.70" font-size="9" text-anchor="middle" font-weight="normal" textLength="103.1" lengthAdjust="spacingAndGlyphs" stroke="#111" stroke-width="0.35">Cluster Representative ID</text>
<text transform="translate(7.6,475.3) rotate(-90)" x="0" y="0" font-size="8.7" text-anchor="middle" textLength="104.5" lengthAdjust="spacingAndGlyphs" stroke="#111" stroke-width="0.35">The number of molecules</text>
</svg>
</body></html>
